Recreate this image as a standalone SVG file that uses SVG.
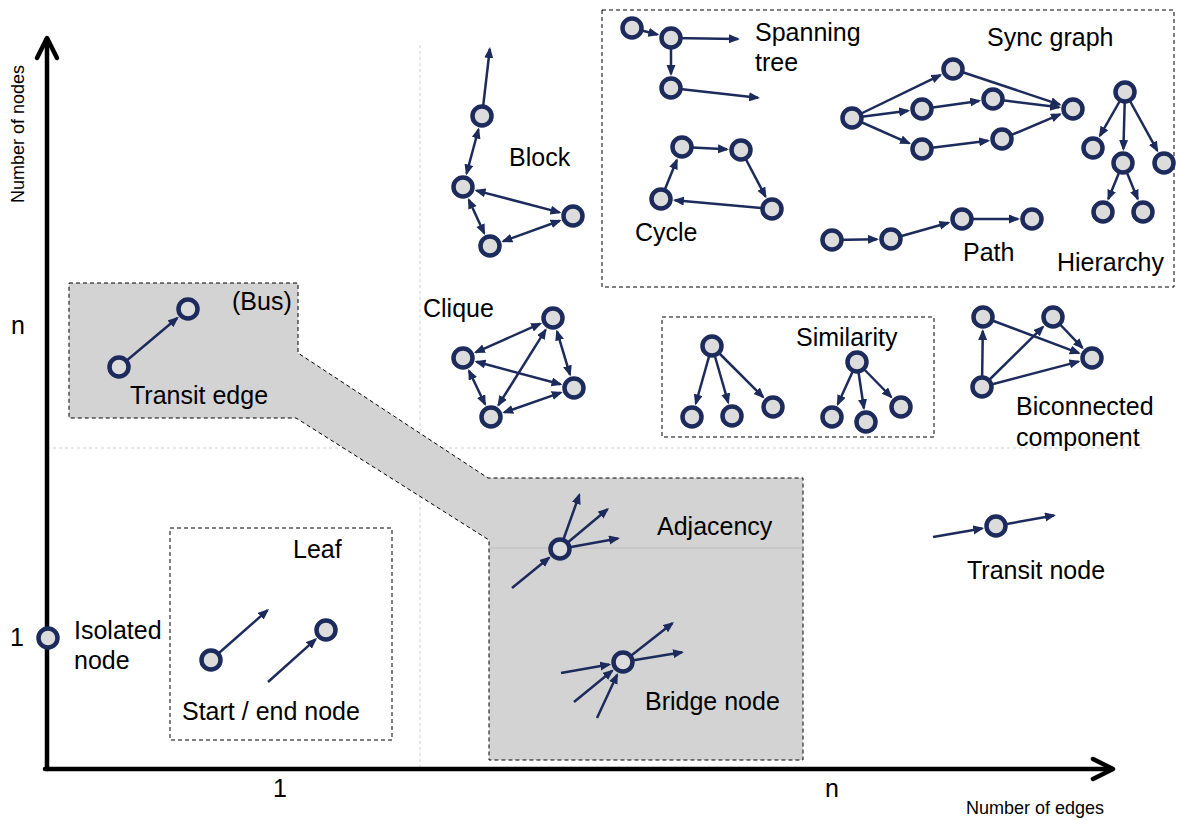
<svg xmlns="http://www.w3.org/2000/svg" width="1178" height="820" viewBox="0 0 1178 820">
<defs>
<marker id="ah" markerUnits="userSpaceOnUse" markerWidth="12" markerHeight="10" refX="9" refY="4.5" orient="auto-start-reverse"><path d="M0,0 L11,4.5 L0,9 z" fill="#1c2b5c"/></marker>
<style>
.n{fill:#dcdcdc;stroke:#1c2b5c;stroke-width:4.5}
.e{stroke:#1c2b5c;stroke-width:2.5;fill:none;marker-end:url(#ah)}
.b{marker-start:url(#ah)}
.t{font-family:"Liberation Sans",Arial,sans-serif;font-size:25px;fill:#000}
.s{font-family:"Liberation Sans",Arial,sans-serif;font-size:18px;fill:#000}
.box{fill:none;stroke:#000;stroke-width:1;stroke-dasharray:4,3}
.grid{stroke:#cfcfcf;stroke-width:1;stroke-dasharray:3,3;fill:none}
.ax{stroke:#000;stroke-width:4.5;fill:none;stroke-linecap:round;stroke-linejoin:round}
</style>
</defs>
<rect width="1178" height="820" fill="#fff"/>
<g id="grid">
<line class="grid" x1="420" y1="45" x2="420" y2="769"/>
<line class="grid" x1="47" y1="448" x2="1145" y2="448"/>
</g>
<g id="regions">
<polygon points="69,283 298,283 298,353 488,478 803,478 803,760 489,760 489,540 296,418 69,418" fill="#d3d3d3" stroke="#000" stroke-width="1" stroke-dasharray="4,3"/>
<line x1="489" y1="548" x2="803" y2="548" stroke="#bdbdbd" stroke-width="1"/>
<rect class="box" x="602" y="10" width="572" height="277"/>
<rect class="box" x="662" y="317" width="272" height="120"/>
<rect class="box" x="170" y="528" width="222" height="212"/>
</g>
<g id="axes">
<line class="ax" x1="47" y1="769" x2="47" y2="39"/>
<polyline class="ax" points="37,58 47,38 57,58"/>
<line class="ax" x1="45" y1="769" x2="1111" y2="769"/>
<polyline class="ax" points="1093,759 1113,769 1093,779"/>
</g>
<g id="connectors">
<!-- spanning tree -->
<line class="e" x1="632" y1="28" x2="657.4" y2="34.5"/>
<line class="e" x1="671" y1="38" x2="738" y2="39"/>
<line class="e" x1="671" y1="38" x2="671" y2="74"/>
<line class="e" x1="671" y1="88" x2="758" y2="97.8"/>
<!-- sync graph -->
<line class="e" x1="852" y1="118" x2="940.4" y2="75.1"/>
<line class="e" x1="852" y1="118" x2="908.1" y2="110.8"/>
<line class="e" x1="852" y1="118" x2="909.2" y2="143.3"/>
<line class="e" x1="922" y1="109" x2="979.1" y2="100.9"/>
<line class="e" x1="922" y1="149" x2="988.1" y2="140.7"/>
<line class="e" x1="953" y1="69" x2="1059.7" y2="104.6"/>
<line class="e" x1="993" y1="99" x2="1059.1" y2="107.3"/>
<line class="e" x1="1002" y1="139" x2="1060.1" y2="114.4"/>
<!-- hierarchy -->
<line class="e" x1="1125" y1="92" x2="1099.9" y2="135.8"/>
<line class="e" x1="1125" y1="92" x2="1123.4" y2="149"/>
<line class="e" x1="1125" y1="92" x2="1157.3" y2="150.7"/>
<line class="e" x1="1123" y1="163" x2="1108.3" y2="199"/>
<line class="e" x1="1123" y1="163" x2="1137.7" y2="199"/>
<!-- path -->
<line class="e" x1="832" y1="240" x2="877" y2="239.2"/>
<line class="e" x1="891" y1="239" x2="948.5" y2="222.8"/>
<line class="e" x1="962" y1="219" x2="1018" y2="219"/>
<!-- cycle -->
<line class="e" x1="682" y1="147" x2="727" y2="149.3"/>
<line class="e" x1="741" y1="150" x2="765.5" y2="196.6"/>
<line class="e" x1="772" y1="209" x2="674.9" y2="200.3"/>
<line class="e" x1="661" y1="199" x2="676.8" y2="160"/>
<!-- block -->
<line class="e" x1="482" y1="116" x2="489.8" y2="49"/>
<line class="e b" x1="478.4" y1="129.5" x2="466.6" y2="173.5"/>
<line class="e b" x1="476.5" y1="190.6" x2="559.5" y2="212.4"/>
<line class="e b" x1="468.8" y1="199.7" x2="484.2" y2="233.3"/>
<line class="e b" x1="503.2" y1="241.2" x2="559.8" y2="220.8"/>
<!-- clique -->
<line class="e b" x1="540.2" y1="323.7" x2="475.8" y2="352.3"/>
<line class="e b" x1="557" y1="331.4" x2="570" y2="374.6"/>
<line class="e b" x1="545.6" y1="329.9" x2="498.4" y2="405.1"/>
<line class="e b" x1="476.5" y1="361.7" x2="560.5" y2="384.3"/>
<line class="e b" x1="469" y1="370.7" x2="485" y2="404.3"/>
<line class="e b" x1="504.2" y1="412.4" x2="560.8" y2="392.6"/>
<!-- similarity -->
<line class="e" x1="712" y1="346" x2="695.8" y2="403.5"/>
<line class="e" x1="712" y1="346" x2="728.2" y2="402.5"/>
<line class="e" x1="712" y1="346" x2="763.1" y2="397.1"/>
<line class="e" x1="857" y1="362" x2="837.8" y2="404.2"/>
<line class="e" x1="857" y1="362" x2="863.9" y2="408.2"/>
<line class="e" x1="857" y1="362" x2="891.2" y2="397"/>
<!-- biconnected -->
<line class="e" x1="982" y1="387" x2="982.8" y2="331"/>
<line class="e" x1="982" y1="387" x2="1043" y2="326.8"/>
<line class="e" x1="982" y1="387" x2="1078.5" y2="361.6"/>
<line class="e" x1="983" y1="317" x2="1078.9" y2="353.1"/>
<line class="e" x1="1053" y1="317" x2="1082.4" y2="347.9"/>
<!-- transit edge -->
<line class="e" x1="119" y1="367" x2="177.3" y2="318"/>
<!-- adjacency -->
<line class="e" x1="560" y1="549" x2="579.3" y2="494.9"/>
<line class="e" x1="560" y1="549" x2="607.5" y2="509.3"/>
<line class="e" x1="560" y1="549" x2="618" y2="538.4"/>
<line class="e" x1="512" y1="588" x2="549.1" y2="557.8"/>
<!-- bridge node -->
<line class="e" x1="623" y1="662" x2="672.4" y2="623.2"/>
<line class="e" x1="623" y1="662" x2="682" y2="652.3"/>
<line class="e" x1="561" y1="673" x2="609.2" y2="664.5"/>
<line class="e" x1="574" y1="702" x2="612.2" y2="670.8"/>
<line class="e" x1="597" y1="718" x2="617.1" y2="674.7"/>
<!-- transit node -->
<line class="e" x1="933" y1="537" x2="982.2" y2="528.4"/>
<line class="e" x1="996" y1="526" x2="1054" y2="515.4"/>
<!-- leaf -->
<line class="e" x1="211" y1="660" x2="267.5" y2="610.3"/>
<line class="e" x1="268" y1="682" x2="315.6" y2="639.4"/>
</g>
<g id="node-spanning"><circle class="n" cx="632" cy="28" r="9.5"/><circle class="n" cx="671" cy="38" r="9.5"/><circle class="n" cx="671" cy="88" r="9.5"/></g>
<g id="node-sync"><circle class="n" cx="852" cy="118" r="9.5"/><circle class="n" cx="953" cy="69" r="9.5"/><circle class="n" cx="922" cy="109" r="9.5"/><circle class="n" cx="993" cy="99" r="9.5"/><circle class="n" cx="922" cy="149" r="9.5"/><circle class="n" cx="1002" cy="139" r="9.5"/><circle class="n" cx="1073" cy="109" r="9.5"/></g>
<g id="node-hierarchy"><circle class="n" cx="1125" cy="92" r="9.5"/><circle class="n" cx="1093" cy="148" r="9.5"/><circle class="n" cx="1123" cy="163" r="9.5"/><circle class="n" cx="1164" cy="163" r="9.5"/><circle class="n" cx="1103" cy="212" r="9.5"/><circle class="n" cx="1143" cy="212" r="9.5"/></g>
<g id="node-path"><circle class="n" cx="832" cy="240" r="9.5"/><circle class="n" cx="891" cy="239" r="9.5"/><circle class="n" cx="962" cy="219" r="9.5"/><circle class="n" cx="1032" cy="219" r="9.5"/></g>
<g id="node-cycle"><circle class="n" cx="682" cy="147" r="9.5"/><circle class="n" cx="741" cy="150" r="9.5"/><circle class="n" cx="772" cy="209" r="9.5"/><circle class="n" cx="661" cy="199" r="9.5"/></g>
<g id="node-block"><circle class="n" cx="482" cy="116" r="9.5"/><circle class="n" cx="463" cy="187" r="9.5"/><circle class="n" cx="573" cy="216" r="9.5"/><circle class="n" cx="490" cy="246" r="9.5"/></g>
<g id="node-clique"><circle class="n" cx="553" cy="318" r="9.5"/><circle class="n" cx="463" cy="358" r="9.5"/><circle class="n" cx="574" cy="388" r="9.5"/><circle class="n" cx="491" cy="417" r="9.5"/></g>
<g id="node-similarity"><circle class="n" cx="712" cy="346" r="9.5"/><circle class="n" cx="692" cy="417" r="9.5"/><circle class="n" cx="732" cy="416" r="9.5"/><circle class="n" cx="773" cy="407" r="9.5"/><circle class="n" cx="857" cy="362" r="9.5"/><circle class="n" cx="832" cy="417" r="9.5"/><circle class="n" cx="866" cy="422" r="9.5"/><circle class="n" cx="901" cy="407" r="9.5"/></g>
<g id="node-biconnected"><circle class="n" cx="983" cy="317" r="9.5"/><circle class="n" cx="1053" cy="317" r="9.5"/><circle class="n" cx="1092" cy="358" r="9.5"/><circle class="n" cx="982" cy="387" r="9.5"/></g>
<g id="node-transit-edge"><circle class="n" cx="119" cy="367" r="9.5"/><circle class="n" cx="188" cy="309" r="9.5"/></g>
<g id="node-adjacency"><circle class="n" cx="560" cy="549" r="9.5"/></g>
<g id="node-bridge"><circle class="n" cx="623" cy="662" r="9.5"/></g>
<g id="node-transit"><circle class="n" cx="996" cy="526" r="9.5"/></g>
<g id="node-leaf"><circle class="n" cx="211" cy="660" r="9.5"/><circle class="n" cx="326" cy="630" r="9.5"/></g>
<g id="node-isolated"><circle class="n" cx="48" cy="638" r="9.5"/></g>
<g id="labels">
<text class="t" x="755" y="41">Spanning</text>
<text class="t" x="755" y="71">tree</text>
<text class="t" x="987" y="46">Sync graph</text>
<text class="t" x="1057" y="271">Hierarchy</text>
<text class="t" x="963" y="261">Path</text>
<text class="t" x="635" y="241">Cycle</text>
<text class="t" x="509" y="166">Block</text>
<text class="t" x="423" y="317">Clique</text>
<text class="t" x="796" y="346">Similarity</text>
<text class="t" x="1016" y="415">Biconnected</text>
<text class="t" x="1016" y="446">component</text>
<text class="t" x="232" y="310">(Bus)</text>
<text class="t" x="130" y="404">Transit edge</text>
<text class="t" x="657" y="535">Adjacency</text>
<text class="t" x="645" y="710">Bridge node</text>
<text class="t" x="967" y="579">Transit node</text>
<text class="t" x="293" y="558">Leaf</text>
<text class="t" x="182" y="720">Start / end node</text>
<text class="t" x="74" y="639">Isolated</text>
<text class="t" x="74" y="669">node</text>
<text class="t" x="11" y="334">n</text>
<text class="t" x="10" y="646">1</text>
<text class="t" x="273" y="797">1</text>
<text class="t" x="825" y="797">n</text>
<text class="s" transform="translate(24,203) rotate(-90)">Number of nodes</text>
<text class="s" x="966" y="814">Number of edges</text>
</g>
</svg>
